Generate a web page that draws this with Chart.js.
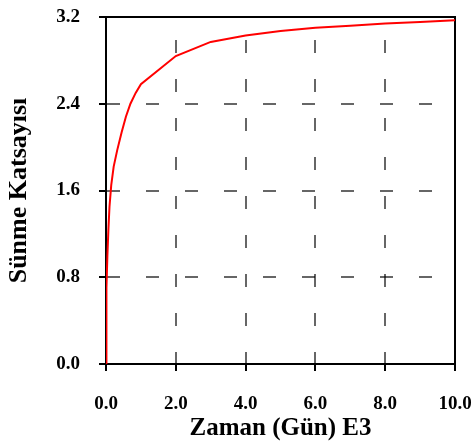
<!DOCTYPE html>
<html>
<head>
<meta charset="utf-8">
<script src="https://cdn.jsdelivr.net/npm/chart.js@4/dist/chart.umd.min.js"></script>
<style>
html, body { margin: 0; padding: 0; background: #fff; }
#wrap { width: 473px; height: 444px; }
</style>
</head>
<body>
<div id="wrap"><canvas id="c" width="473" height="444"></canvas></div>
<script>
// Data (time in thousands of days, creep coefficient)
const timeE3 = [0, 0.005, 0.02, 0.04, 0.07, 0.10, 0.15, 0.22, 0.32, 0.45, 0.57, 0.70, 0.85, 1.0, 2.0, 3.0, 4.0, 5.0, 6.0, 7.0, 8.0, 9.0, 10.0];
const creepCoef = [0, 0.30, 0.70, 1.00, 1.25, 1.45, 1.65, 1.82, 1.97, 2.14, 2.28, 2.40, 2.50, 2.58, 2.84, 2.97, 3.03, 3.07, 3.10, 3.12, 3.14, 3.155, 3.17];
const xTicks = [0, 2, 4, 6, 8, 10];
const yTicks = [0, 0.8, 1.6, 2.4, 3.2];
const xTitle = 'Zaman (Gün) E3';
const yTitle = 'Sünme Katsayısı';

const points = timeE3.map((t, i) => ({ x: t, y: creepCoef[i] }));
const FONT = 'Liberation Serif';

const frame = {
  id: 'frame',
  beforeDatasetsDraw(chart) {
    const { ctx, chartArea: a } = chart;
    ctx.save();
    ctx.strokeStyle = '#000';
    ctx.lineWidth = 2;
    ctx.beginPath();
    ctx.moveTo(a.left - 1, a.top);
    ctx.lineTo(a.right, a.top);
    ctx.lineTo(a.right, a.bottom + 1);
    ctx.stroke();
    ctx.restore();
  }
};

new Chart(document.getElementById('c'), {
  type: 'line',
  data: {
    datasets: [{
      data: points,
      borderColor: '#ff0000',
      borderWidth: 2,
      pointRadius: 0,
      tension: 0,
      fill: false
    }]
  },
  options: {
    responsive: false,
    animation: false,
    layout: { padding: { top: 17, right: 18, left: 0, bottom: 0 } },
    plugins: { legend: { display: false }, tooltip: { enabled: false } },
    scales: {
      x: {
        type: 'linear',
        min: 0, max: 10,
        afterFit(s) { s.height = 80; s.paddingLeft = 0; s.paddingRight = 0; },
        afterBuildTicks(s) { s.ticks = xTicks.map(v => ({ value: v })); },
        ticks: {
          color: '#000',
          padding: 22,
          maxRotation: 0,
          font: { family: FONT, size: 19, weight: 'bold' },
          callback: v => Number(v).toFixed(1)
        },
        grid: {
          color: 'rgba(0,0,0,0.6)',
          lineWidth: 2,
          tickLength: 7,
          tickColor: '#000',
          tickWidth: 2
        },
        border: { display: true, color: '#000', width: 2, dash: [13, 26], dashOffset: 16 },
        title: {
          display: true,
          text: xTitle,
          color: '#000',
          font: { family: FONT, size: 25, weight: 'bold' },
          padding: { top: 0, bottom: 0 }
        }
      },
      y: {
        type: 'linear',
        min: 0, max: 3.2,
        afterFit(s) { s.width = 106; s.paddingTop = 0; s.paddingBottom = 0; },
        afterBuildTicks(s) { s.ticks = yTicks.map(v => ({ value: v })); },
        ticks: {
          color: '#000',
          padding: 19,
          font: { family: FONT, size: 19, weight: 'bold' },
          callback: v => Number(v).toFixed(1)
        },
        grid: {
          color: 'rgba(0,0,0,0.6)',
          lineWidth: 2,
          tickLength: 7,
          tickColor: '#000',
          tickWidth: 2
        },
        border: { display: true, color: '#000', width: 2, dash: [13, 26], dashOffset: 0 },
        title: {
          display: true,
          text: yTitle,
          color: '#000',
          font: { family: FONT, size: 26, weight: 'bold' },
          padding: { top: 4, bottom: 0 }
        }
      }
    }
  },
  plugins: [frame]
});
</script>
</body>
</html>
